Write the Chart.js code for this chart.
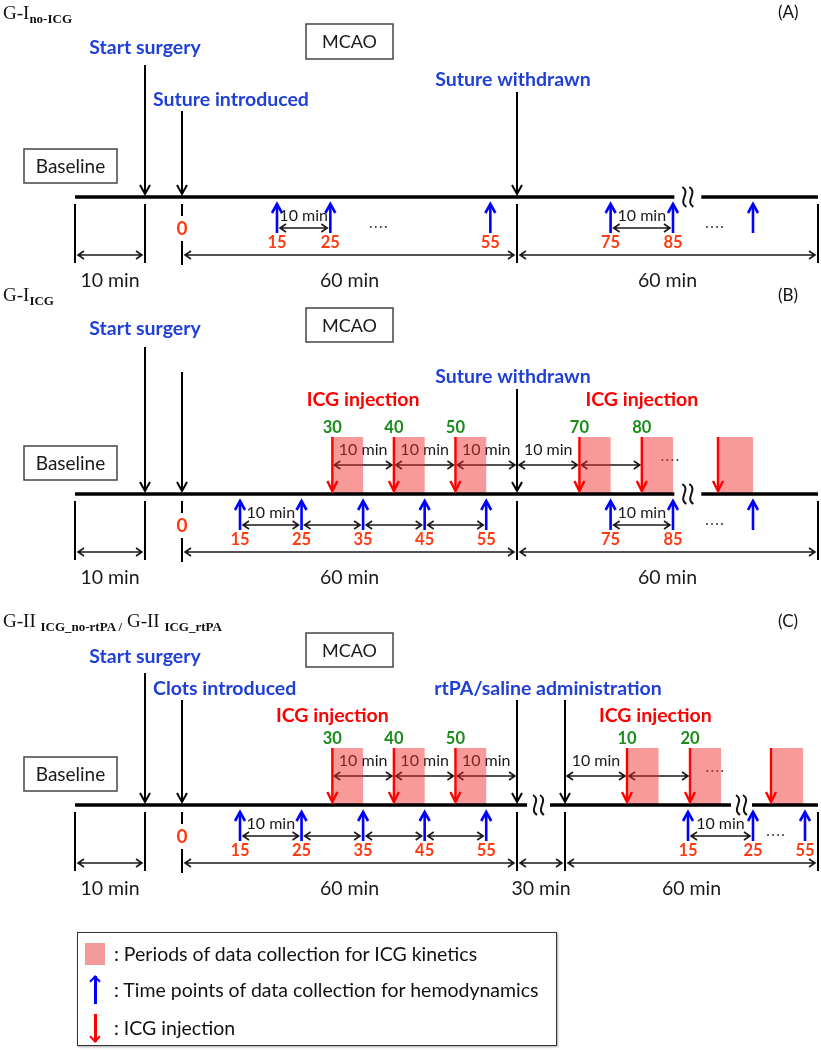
<!DOCTYPE html>
<html>
<head>
<meta charset="utf-8">
<title>Experimental timeline</title>
<script src="https://cdn.jsdelivr.net/npm/chart.js@4.4.1/dist/chart.umd.min.js"></script>
<style>
  body { margin: 0; background: #fff; }
  #wrap { position: relative; width: 821px; height: 1050px; overflow: hidden; }
  #timeline { position: absolute; left: 0; top: 0; }
  .title { position: absolute; left: 3px; font-family: "Liberation Serif", "DejaVu Serif", serif; font-size: 19px; color: #111; white-space: nowrap; }
  .title sub { font-size: 13px; font-weight: bold; vertical-align: -4px; }
  .tag { position: absolute; left: 778px; font-family: Lato, "Open Sans", sans-serif; font-size: 17px; color: #111; }
  #legend { position: absolute; left: 77px; top: 932px; width: 478px; height: 112px; border: 1.5px solid #333;
            box-shadow: 1px 1px 2px rgba(0,0,0,0.35); font-family: Lato, "Open Sans", sans-serif; font-size: 19.5px; color: #111; }
  #legend .row { position: absolute; left: 0; height: 30px; line-height: 30px; }
  #legend .key { position: absolute; left: 6px; width: 22px; height: 30px; }
  #legend .txt { position: absolute; left: 36px; white-space: nowrap; }
  .swatch { position: absolute; left: 1px; top: 4px; width: 20px; height: 22px; background: #f59a9a; }
  .arr { position: absolute; left: 10px; width: 2.5px; top: 1px; height: 28px; }
  .arr.up { background: #0000ff; }
  .arr.down { background: #ff0000; }
  .arr::after { content: ""; position: absolute; width: 6px; height: 6px; border-style: solid; border-width: 0; }
  .arr.up::after { border-left: 2px solid #0000ff; border-top: 2px solid #0000ff; transform: rotate(45deg); left: -3px; top: 1px; }
  .arr.down::after { bottom: 1px; border-right: 2px solid #ff0000; border-bottom: 2px solid #ff0000; transform: rotate(45deg); left: -3px; }
</style>
</head>
<body>
<div id="wrap">
  <canvas id="timeline" width="821" height="1050"></canvas>
  <div class="title" style="top:2px">G-I<sub>no-ICG</sub></div>
  <div class="tag" style="top:1px">(A)</div>
  <div class="title" style="top:284px">G-I<sub>ICG</sub></div>
  <div class="tag" style="top:284px">(B)</div>
  <div class="title" style="top:610px">G-II <sub>ICG_no-rtPA /</sub> G-II <sub>ICG_rtPA</sub></div>
  <div class="tag" style="top:610px">(C)</div>
  <div id="legend">
    <div class="row" style="top:6px"><div class="key"><div class="swatch"></div></div><div class="txt">: Periods of data collection for ICG kinetics</div></div>
    <div class="row" style="top:42px"><div class="key"><div class="arr up"></div></div><div class="txt">: Time points of data collection for hemodynamics</div></div>
    <div class="row" style="top:80px"><div class="key"><div class="arr down"></div></div><div class="txt">: ICG injection</div></div>
  </div>
</div>
<script>
// ---- data: minutes, 0 = start of occlusion (suture / clots introduced) ----
const baselineStart = -20;
const surgeryStart = -10;
const occlusionStart = 0;
const occlusionEnd = 60;
const followUpEnd = 120;
const kineticsWindow = 5;           // ICG kinetics collected for 5 min after each injection

// G-I no-ICG
const hemoTimesA = [15, 25, 55, 75, 85, 115];
const hemoLabelsA = ['15', '25', '55', '75', '85', ''];

// G-I ICG
const hemoTimesB = [15, 25, 35, 45, 55, 75, 85, 115];
const hemoLabelsB = ['15', '25', '35', '45', '55', '75', '85', ''];
const injTimesB = [30, 40, 50, 70, 80, 110];
const injLabelsB = ['30', '40', '50', '70', '80', ''];

// G-II: 60 min MCAO, 30 min, then rtPA / saline and 60 min follow-up
const rtpaTime = 90;
const rtpaFollowUp = 60;
const hemoTimesC = [15, 25, 35, 45, 55];
const hemoLabelsC = ['15', '25', '35', '45', '55'];
const injTimesC = [30, 40, 50];
const injLabelsC = ['30', '40', '50'];
const hemoAfterRtpa = [15, 25, 55];
const hemoAfterRtpaLabels = ['15', '25', '55'];
const injAfterRtpa = [10, 20, 50];
const injAfterRtpaLabels = ['10', '20', ''];

// ---- a broken time axis: piecewise linear between anchors (schematic spacing) ----
const LinearBase = Chart.LinearScale || Chart.registry.getScale('linear');
class BrokenTimeScale extends LinearBase {
  getPixelForValue(value) {
    const a = this.options.anchors;
    let i = 0;
    while (i < a.length - 2 && value > a[i + 1][0]) i++;
    const [t0, p0] = a[i];
    const [t1, p1] = a[i + 1];
    const pos = p0 + (value - t0) * (p1 - p0) / (t1 - t0);
    return this.left + pos / this.options.span * this.width;
  }
  getValueForPixel(pixel) {
    const a = this.options.anchors;
    const pos = (pixel - this.left) / this.width * this.options.span;
    let i = 0;
    while (i < a.length - 2 && pos > a[i + 1][1]) i++;
    const [t0, p0] = a[i];
    const [t1, p1] = a[i + 1];
    return t0 + (pos - p0) * (t1 - t0) / (p1 - p0);
  }
}
BrokenTimeScale.id = 'brokentime';
BrokenTimeScale.defaults = LinearBase.defaults;
Chart.register(BrokenTimeScale);

const SPAN = 821;
const anchorsA = [[-20, 75], [-10, 145], [0, 182], [15, 277], [60, 517], [85, 673], [108, 704], [115, 753], [120, 818]];
const anchorsB = [[-20, 75], [-10, 145], [0, 182], [15, 240], [60, 517], [85, 673], [108, 704], [115, 753], [120, 818]];
const anchorsC = [[-20, 75], [-10, 145], [0, 182], [15, 240], [60, 517], [90, 565], [100, 627], [110, 690], [115, 721],
                  [125, 731], [133, 752], [140, 771], [145, 803], [150, 818]];
// the hemodynamic row of G-II is drawn on its own schematic spacing after rtPA
const anchorsCHemo = [[-20, 75], [-10, 145], [0, 182], [15, 240], [60, 517], [90, 565], [105, 688], [115, 753],
                      [145, 805], [150, 818]];

const rtpaEnd = rtpaTime + rtpaFollowUp;
const afterRtpa = arr => arr.map(t => rtpaTime + t);

const panels = [
  {
    axis: 'xA', hemoAxis: 'xA',
    hemo: hemoTimesA, hemoLabels: hemoLabelsA,
    inj: [], injLabels: [],
    hemoDims: [[15, 25, '10 min'], [75, 85, '10 min']],
    injDims: [],
    bigDims: [[baselineStart, surgeryStart, '10 min'], [occlusionStart, occlusionEnd, '60 min'], [occlusionEnd, followUpEnd, '60 min']],
    ticks: [baselineStart, surgeryStart, occlusionEnd, followUpEnd],
    lineEnd: followUpEnd,
    breaks: [[86, 106]],
    dotsBelow: [34, 109.5], dotsAbove: [],
    events: [
      { ts: [surgeryStart], text: 'Start surgery', textY: 48, top: 65, anchor: 'center', dx: 0 },
      { ts: [occlusionStart], text: 'Suture introduced', textY: 100, top: 111, anchor: 'left', dx: -29 },
      { ts: [occlusionEnd], text: 'Suture withdrawn', textY: 80, top: 92, anchor: 'center', dx: -4 }
    ],
    injText: [], injTextY: 0,
    mcao: [24, 59], base: [149, 183], line: 197
  },
  {
    axis: 'xB', hemoAxis: 'xB',
    hemo: hemoTimesB, hemoLabels: hemoLabelsB,
    inj: injTimesB, injLabels: injLabelsB,
    hemoDims: [[15, 25, '10 min'], [25, 35, ''], [35, 45, ''], [45, 55, ''], [75, 85, '10 min']],
    injDims: [[30, 40, '10 min'], [40, 50, '10 min'], [50, 60, '10 min'], [60, 70, '10 min'], [70, 80, '']],
    bigDims: [[baselineStart, surgeryStart, '10 min'], [occlusionStart, occlusionEnd, '60 min'], [occlusionEnd, followUpEnd, '60 min']],
    ticks: [baselineStart, surgeryStart, occlusionEnd, followUpEnd],
    lineEnd: followUpEnd,
    breaks: [[86, 106]],
    dotsBelow: [109.5], dotsAbove: [84.5],
    events: [
      { ts: [surgeryStart], text: 'Start surgery', textY: 329, top: 347, anchor: 'center', dx: 0 },
      { ts: [occlusionStart], text: '', textY: 0, top: 372, anchor: 'left', dx: 0 },
      { ts: [occlusionEnd], text: 'Suture withdrawn', textY: 377, top: 389, anchor: 'center', dx: -4 }
    ],
    injText: [35, 80], injTextY: 400,
    mcao: [308, 342], base: [446, 480], line: 494
  },
  {
    axis: 'xC', hemoAxis: 'xCh',
    hemo: hemoTimesC.concat(afterRtpa(hemoAfterRtpa)), hemoLabels: hemoLabelsC.concat(hemoAfterRtpaLabels),
    inj: injTimesC.concat(afterRtpa(injAfterRtpa)), injLabels: injLabelsC.concat(injAfterRtpaLabels),
    hemoDims: [[15, 25, '10 min'], [25, 35, ''], [35, 45, ''], [45, 55, ''], [rtpaTime + 15, rtpaTime + 25, '10 min']],
    injDims: [[30, 40, '10 min'], [40, 50, '10 min'], [50, 60, '10 min'], [rtpaTime, rtpaTime + 10, '10 min'], [rtpaTime + 10, rtpaTime + 20, '']],
    bigDims: [[baselineStart, surgeryStart, '10 min'], [occlusionStart, occlusionEnd, '60 min'], [occlusionEnd, rtpaTime, '30 min'], [rtpaTime, rtpaEnd, '60 min']],
    ticks: [baselineStart, surgeryStart, occlusionEnd, rtpaTime, rtpaEnd],
    lineEnd: rtpaEnd,
    breaks: [[66.3, 80.6], [125, 133]],
    dotsBelow: [128], dotsAbove: [114],
    events: [
      { ts: [surgeryStart], text: 'Start surgery', textY: 657, top: 673, anchor: 'center', dx: 0 },
      { ts: [occlusionStart], text: 'Clots introduced', textY: 689, top: 700, anchor: 'left', dx: -29 },
      { ts: [occlusionEnd, rtpaTime], text: 'rtPA/saline administration', textY: 689, top: 700, anchor: 'center', dx: 7 }
    ],
    injText: [30, 104.5], injTextY: 716,
    mcao: [633, 667], base: [757, 791], line: 805
  }
];

// ---- colours / fonts ----
const FONT = 'Lato, "Open Sans", sans-serif';
const BLUE_TEXT = '#1f3fd6';
const BLUE = '#0000ff';
const RED = '#ff0000';
const ORANGE = '#ff3a12';
const GREEN = '#1a8c1a';
const PINK = 'rgba(240, 40, 40, 0.47)';
const INK = '#1a1a1a';

function vArrow(ctx, x, yFrom, yTo, color, lw, hw, hl) {
  ctx.save();
  ctx.strokeStyle = color;
  ctx.lineWidth = lw;
  ctx.beginPath();
  ctx.moveTo(x, yFrom);
  ctx.lineTo(x, yTo);
  ctx.stroke();
  const dir = yTo > yFrom ? 1 : -1;
  ctx.beginPath();
  ctx.moveTo(x - hw, yTo - dir * hl);
  ctx.lineTo(x, yTo);
  ctx.lineTo(x + hw, yTo - dir * hl);
  ctx.stroke();
  ctx.restore();
}

function hArrow2(ctx, x1, x2, y) {
  ctx.save();
  ctx.strokeStyle = INK;
  ctx.lineWidth = 1.6;
  ctx.beginPath();
  ctx.moveTo(x1, y);
  ctx.lineTo(x2, y);
  ctx.moveTo(x1 + 6, y - 4);
  ctx.lineTo(x1, y);
  ctx.lineTo(x1 + 6, y + 4);
  ctx.moveTo(x2 - 6, y - 4);
  ctx.lineTo(x2, y);
  ctx.lineTo(x2 - 6, y + 4);
  ctx.stroke();
  ctx.restore();
}

function label(ctx, str, x, y, font, color, align) {
  ctx.save();
  ctx.font = font;
  ctx.fillStyle = color;
  ctx.textAlign = align || 'center';
  ctx.textBaseline = 'middle';
  ctx.fillText(str, x, y);
  ctx.restore();
}

function box(ctx, x1, y1, x2, y2, str, size) {
  ctx.save();
  ctx.fillStyle = '#fff';
  ctx.fillRect(x1, y1, x2 - x1, y2 - y1);
  ctx.strokeStyle = '#444';
  ctx.lineWidth = 1.5;
  ctx.strokeRect(x1, y1, x2 - x1, y2 - y1);
  ctx.restore();
  label(ctx, str, (x1 + x2) / 2, (y1 + y2) / 2 + 1, size + 'px ' + FONT, INK);
}

function dots(ctx, x, y) {
  ctx.save();
  ctx.fillStyle = '#333';
  for (let i = 0; i < 4; i++) {
    ctx.beginPath();
    ctx.arc(x - 7.5 + i * 5, y, 1, 0, Math.PI * 2);
    ctx.fill();
  }
  ctx.restore();
}

function breakMark(ctx, x, y) {
  ctx.save();
  ctx.strokeStyle = '#111';
  ctx.lineWidth = 2;
  [-3.5, 3.5].forEach(off => {
    ctx.beginPath();
    ctx.moveTo(x + off - 2, y - 10);
    ctx.bezierCurveTo(x + off + 7, y - 4, x + off - 7, y + 4, x + off + 2, y + 10);
    ctx.stroke();
  });
  ctx.restore();
}

const timelinePlugin = {
  id: 'timeline',
  beforeDatasetsDraw(chart) {
    const ctx = chart.ctx;
    const Y = v => chart.scales.y.getPixelForValue(v);
    panels.forEach(p => {
      const X = t => chart.scales[p.axis].getPixelForValue(t);
      const L = p.line;
      // spacing between injections
      p.injDims.forEach(([a, b, txt]) => {
        hArrow2(ctx, X(a) + 2, X(b) - 2, Y(L - 29));
        if (txt) label(ctx, txt, (X(a) + X(b)) / 2, Y(L - 44), '16px ' + FONT, INK);
      });
      p.dotsAbove.forEach(t => dots(ctx, X(t), Y(L - 34)));
      // ICG kinetics periods
      ctx.save();
      ctx.fillStyle = PINK;
      p.inj.forEach(t => {
        const x1 = X(t), x2 = X(t + kineticsWindow);
        ctx.fillRect(x1, Y(L - 57), x2 - x1, Y(L) - Y(L - 57));
      });
      ctx.restore();
    });
  },
  afterDatasetsDraw(chart) {
    const ctx = chart.ctx;
    const Y = v => chart.scales.y.getPixelForValue(v);
    panels.forEach(p => {
      const X = t => chart.scales[p.axis].getPixelForValue(t);
      const XH = t => chart.scales[p.hemoAxis].getPixelForValue(t);
      const L = p.line;

      // MCAO and baseline boxes
      const mid = (X(occlusionStart) + X(occlusionEnd)) / 2;
      box(ctx, mid - 43.5, Y(p.mcao[0]), mid + 43.5, Y(p.mcao[1]), 'MCAO', 18);
      box(ctx, X(baselineStart) - 51, Y(p.base[0]), X(baselineStart) + 42, Y(p.base[1]), 'Baseline', 19);

      // surgical events: black arrows down to the timeline
      p.events.forEach(ev => {
        ev.ts.forEach(t => vArrow(ctx, X(t), Y(ev.top), Y(L - 3), '#000', 2, 5, 9));
        if (!ev.text) return;
        const xs = ev.ts.map(X);
        if (ev.anchor === 'left') {
          label(ctx, ev.text, xs[0] + ev.dx, Y(ev.textY), 'bold 19.5px ' + FONT, BLUE_TEXT, 'left');
        } else {
          const cx = xs.reduce((s, v) => s + v, 0) / xs.length;
          label(ctx, ev.text, cx + ev.dx, Y(ev.textY), 'bold 19.5px ' + FONT, BLUE_TEXT);
        }
      });

      // ICG injections
      p.injText.forEach(t => label(ctx, 'ICG injection', X(t), Y(p.injTextY), 'bold 19.5px ' + FONT, RED));
      p.inj.forEach((t, i) => {
        vArrow(ctx, X(t), Y(L - 57), Y(L - 3), RED, 2.4, 5, 10);
        if (p.injLabels[i]) label(ctx, p.injLabels[i], X(t), Y(L - 66), 'bold 16.5px ' + FONT, GREEN);
      });

      // breaks in the timeline
      p.breaks.forEach(([a, b]) => breakMark(ctx, (X(a) + X(b)) / 2, Y(L)));

      // hemodynamic time points
      p.hemo.forEach((t, i) => {
        vArrow(ctx, XH(t), Y(L + 36), Y(L + 7), BLUE, 2.6, 5, 9);
        if (p.hemoLabels[i]) label(ctx, p.hemoLabels[i], XH(t), Y(L + 46), 'bold 16.5px ' + FONT, ORANGE);
      });
      p.hemoDims.forEach(([a, b, txt]) => {
        hArrow2(ctx, XH(a) + 3, XH(b) - 3, Y(L + 31));
        if (txt) label(ctx, txt, (XH(a) + XH(b)) / 2, Y(L + 19), '16px ' + FONT, INK);
      });
      p.dotsBelow.forEach(t => dots(ctx, XH(t), Y(L + 30)));

      // period ticks and durations
      ctx.save();
      ctx.strokeStyle = '#000';
      ctx.lineWidth = 2;
      p.ticks.forEach(t => {
        ctx.beginPath();
        ctx.moveTo(X(t), Y(L + 7));
        ctx.lineTo(X(t), Y(L + 66));
        ctx.stroke();
      });
      const x0 = X(occlusionStart);
      ctx.beginPath();
      ctx.moveTo(x0, Y(L + 7));
      ctx.lineTo(x0, Y(L + 19));
      ctx.moveTo(x0, Y(L + 44));
      ctx.lineTo(x0, Y(L + 68));
      ctx.stroke();
      ctx.restore();
      label(ctx, '0', x0, Y(L + 32), 'bold 19px ' + FONT, ORANGE);

      p.bigDims.forEach(([a, b, txt]) => {
        hArrow2(ctx, X(a) + 3, X(b) - 3, Y(L + 58));
        label(ctx, txt, (X(a) + X(b)) / 2, Y(L + 84), '19.5px ' + FONT, INK);
      });
    });
  }
};

// main timelines (one dataset per panel, gaps at the axis breaks)
function timelineData(p) {
  const pts = [{ x: baselineStart, y: p.line }];
  p.breaks.forEach(([a, b]) => {
    pts.push({ x: a, y: p.line });
    pts.push({ x: (a + b) / 2, y: null });
    pts.push({ x: b, y: p.line });
  });
  pts.push({ x: p.lineEnd, y: p.line });
  return pts;
}

const hiddenAxis = (anchors, max) => ({
  type: 'brokentime', display: false, anchors, span: SPAN, min: baselineStart, max
});

new Chart(document.getElementById('timeline'), {
  type: 'line',
  data: {
    datasets: panels.map(p => ({
      label: 'timeline ' + p.axis,
      data: timelineData(p),
      xAxisID: p.axis,
      yAxisID: 'y',
      borderColor: '#000',
      borderWidth: 3.6,
      pointRadius: 0,
      spanGaps: false
    }))
  },
  options: {
    responsive: false,
    animation: false,
    events: [],
    layout: { padding: 0 },
    plugins: { legend: { display: false }, tooltip: { enabled: false } },
    scales: {
      xA: hiddenAxis(anchorsA, followUpEnd),
      xB: hiddenAxis(anchorsB, followUpEnd),
      xC: hiddenAxis(anchorsC, rtpaEnd),
      xCh: hiddenAxis(anchorsCHemo, rtpaEnd),
      y: { type: 'linear', display: false, min: 0, max: 1050, reverse: true }
    }
  },
  plugins: [timelinePlugin]
});
</script>
</body>
</html>
